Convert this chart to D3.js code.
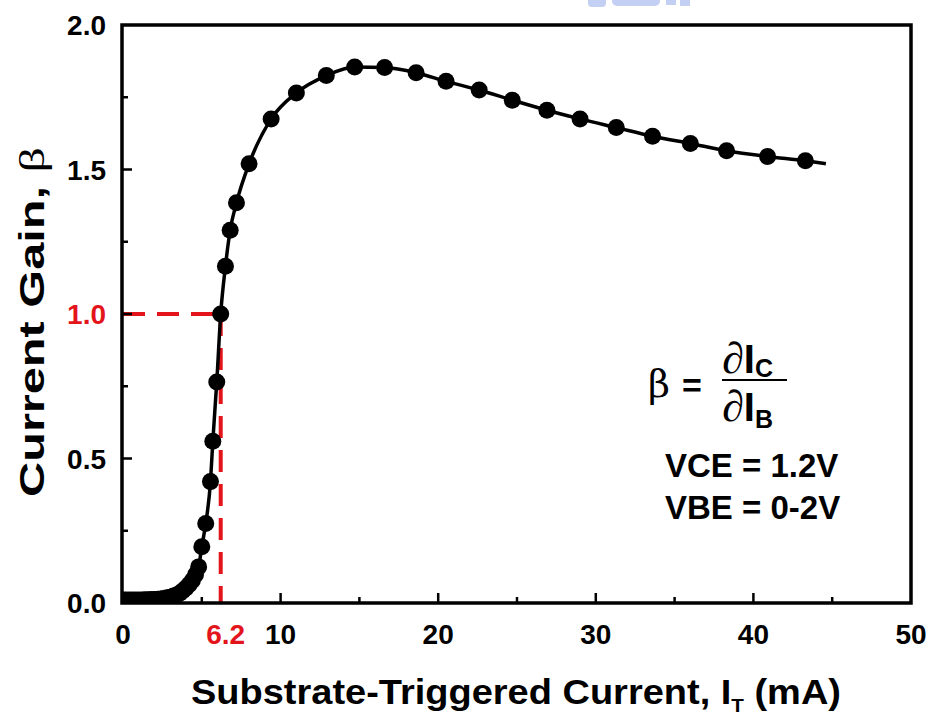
<!DOCTYPE html>
<html><head><meta charset="utf-8">
<script src="https://cdn.jsdelivr.net/npm/d3@7"></script>
<style>body{margin:0;background:#fff}svg{display:block}</style>
</head><body>
<svg id="c" width="929" height="716"></svg>
<script>
// ---- data ----
const lowX = [0.0,0.2,0.4,0.6,0.8,1.0,1.2,1.4,1.6,1.8,2.0,2.2,2.4,2.6,2.8,3.0,3.2,3.4,3.6,3.8,4.0,4.2,4.4,4.6];
const lowY = [0.010,0.010,0.010,0.010,0.010,0.010,0.010,0.011,0.011,0.012,0.012,0.013,0.014,0.016,0.018,0.020,0.024,0.028,0.034,0.042,0.052,0.064,0.078,0.098];
const mainX = [4.8,5.0,5.25,5.55,5.7,5.95,6.2,6.5,6.8,7.2,8.0,9.4,11.0,12.9,14.7,16.6,18.6,20.5,22.6,24.7,26.9,29.0,31.3,33.6,36.0,38.3,40.9,43.3];
const mainY = [0.125,0.195,0.275,0.42,0.56,0.765,1.0,1.165,1.29,1.385,1.52,1.675,1.765,1.825,1.855,1.853,1.835,1.805,1.775,1.74,1.705,1.675,1.645,1.615,1.59,1.565,1.545,1.53];
const lineEndX = 44.6, lineEndY = 1.52;
const xMajor = [0,10,20,30,40,50];
const xMajorLabels = ["0","10","20","30","40","50"];
const xMinor = [5,15,25,35,45];
const yMajor = [0,0.5,1.0,1.5,2.0];
const yMajorLabels = ["0.0","0.5","1.0","1.5","2.0"];
const yMinor = [0.25,0.75,1.25,1.75];
const markX = 6.2, markY = 1.0;
const markXLabel = "6.2";

// ---- layout ----
const L = 122, R = 911, T = 25, B = 603;
const svg = d3.select("#c");
const x = d3.scaleLinear().domain([0,50]).range([L+1,R]);
const y = d3.scaleLinear().domain([0,2]).range([B,T]);
const font = "'Liberation Sans', Arial, sans-serif";
const serif = "'Liberation Serif', 'DejaVu Serif', serif";
const red = "#e4141b";

// faint watermark fragment at top
const wm = svg.append("g").attr("fill","#c3d0f3");
wm.append("rect").attr("x",588).attr("y",-6).attr("width",18).attr("height",13).attr("rx",4);
wm.append("rect").attr("x",612).attr("y",-6).attr("width",48).attr("height",12).attr("rx",5);
wm.append("rect").attr("x",666).attr("y",-6).attr("width",10).attr("height",11);
wm.append("rect").attr("x",680).attr("y",-6).attr("width",10).attr("height",12);

svg.append("defs").append("clipPath").attr("id","plotclip")
  .append("rect").attr("x",L).attr("y",T).attr("width",R-L).attr("height",B-T);

// red dashed marker lines
const dashG = svg.append("g").attr("stroke",red).attr("stroke-width",4).attr("stroke-dasharray","22,12").attr("fill","none");
dashG.append("line").attr("x1",x(0)).attr("x2",x(markX)).attr("y1",y(markY)).attr("y2",y(markY));
dashG.append("line").attr("x1",x(markX)).attr("x2",x(markX)).attr("y1",y(markY)).attr("y2",y(0));

// data
const lowPts = lowX.map((v,i)=>({x:v,y:lowY[i]}));
const mainPts = mainX.map((v,i)=>({x:v,y:mainY[i]}));
const allPts = lowPts.concat(mainPts);
const linePts = allPts.concat([{x:lineEndX,y:lineEndY}]);

const g = svg.append("g").attr("clip-path","url(#plotclip)");
g.append("path").datum(linePts)
  .attr("fill","none").attr("stroke","#000").attr("stroke-width",3.5)
  .attr("d", d3.line().x(d=>x(d.x)).y(d=>y(d.y)).curve(d3.curveMonotoneX));
g.selectAll("circle").data(allPts).join("circle")
  .attr("cx",d=>x(d.x)).attr("cy",d=>y(d.y)).attr("r",8.5).attr("fill","#000");

// frame
svg.append("rect").attr("x",L).attr("y",T).attr("width",R-L).attr("height",B-T)
  .attr("fill","none").attr("stroke","#000").attr("stroke-width",3.5);

// ticks
const tg = svg.append("g").attr("stroke","#000").attr("stroke-width",2.5);
xMajor.slice(1,-1).forEach(v=>tg.append("line").attr("x1",x(v)).attr("x2",x(v)).attr("y1",B).attr("y2",B-10));
xMinor.forEach(v=>tg.append("line").attr("x1",x(v)).attr("x2",x(v)).attr("y1",B).attr("y2",B-6));
yMajor.slice(1,-1).forEach(v=>tg.append("line").attr("x1",L).attr("x2",L+10).attr("y1",y(v)).attr("y2",y(v)));
yMinor.forEach(v=>tg.append("line").attr("x1",L).attr("x2",L+6).attr("y1",y(v)).attr("y2",y(v)));

// tick labels
svg.append("g").selectAll("text").data(xMajor).join("text")
  .attr("x",d=>x(d)).attr("y",B+41).attr("text-anchor","middle")
  .attr("font-family",font).attr("font-weight","bold").attr("font-size",28)
  .text((d,i)=>xMajorLabels[i]);
svg.append("text").attr("x",x(markX)+5).attr("y",B+41).attr("text-anchor","middle")
  .attr("font-family",font).attr("font-weight","bold").attr("font-size",28).attr("fill",red)
  .text(markXLabel);
svg.append("g").selectAll("text").data(yMajor).join("text")
  .attr("x",L-16).attr("y",d=>y(d)+10).attr("text-anchor","end")
  .attr("font-family",font).attr("font-weight","bold").attr("font-size",28)
  .attr("fill",d=>d===markY?red:"#000")
  .text((d,i)=>yMajorLabels[i]);

// axis titles
const yt = svg.append("text").attr("transform","translate(44,322) rotate(-90)")
  .attr("text-anchor","middle").attr("font-family",font).attr("font-size",35)
  .attr("textLength",350).attr("lengthAdjust","spacingAndGlyphs");
yt.append("tspan").attr("font-weight","bold").text("Current Gain, ");
yt.append("tspan").attr("font-family",serif).attr("font-size",36).text("β");

const xt = svg.append("text").attr("x",516).attr("y",704)
  .attr("text-anchor","middle").attr("font-family",font).attr("font-weight","bold").attr("font-size",35)
  .attr("textLength",650).attr("lengthAdjust","spacingAndGlyphs");
xt.append("tspan").text("Substrate-Triggered Current, I");
xt.append("tspan").attr("font-size",19).attr("dy",8).text("T");
xt.append("tspan").attr("dy",-8).text(" (mA)");

// formula annotation
const ann = svg.append("g").attr("font-family",font).attr("font-weight","bold");
ann.append("text").attr("x",648).attr("y",397).attr("font-family","'DejaVu Serif', serif").attr("font-weight","normal").attr("font-size",38).text("β");
ann.append("text").attr("x",682).attr("y",397).attr("font-size",34).text("=");
const num = ann.append("text").attr("x",722).attr("y",373).attr("font-size",40);
num.append("tspan").attr("font-family",serif).attr("font-weight","normal").attr("font-style","italic").attr("font-size",44).text("∂");
num.append("tspan").text("I");
num.append("tspan").attr("font-size",25).attr("dy",4).text("C");
ann.append("line").attr("x1",722).attr("x2",787).attr("y1",380).attr("y2",380).attr("stroke","#000").attr("stroke-width",2);
const den = ann.append("text").attr("x",722).attr("y",421).attr("font-size",40);
den.append("tspan").attr("font-family",serif).attr("font-weight","normal").attr("font-style","italic").attr("font-size",44).text("∂");
den.append("tspan").text("I");
den.append("tspan").attr("font-size",25).attr("dy",7).text("B");
ann.append("text").attr("x",665).attr("y",477).attr("font-size",33).text("VCE = 1.2V");
ann.append("text").attr("x",665).attr("y",519).attr("font-size",33).text("VBE = 0-2V");
</script>
</body></html>
